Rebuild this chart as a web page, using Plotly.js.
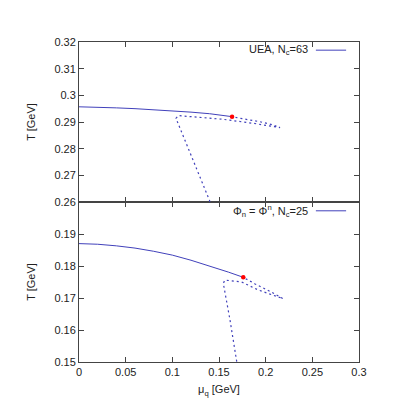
<!DOCTYPE html>
<html>
<head>
<meta charset="utf-8">
<script src="https://cdn.plot.ly/plotly-3.0.1.min.js"></script>
<style>html,body{margin:0;padding:0;background:#fff;}#chart{width:399px;height:418px;}</style>
</head>
<body>
<div id="chart"></div>
<script>
// Top panel (UEA, Nc=63)
var muSolidTop = [0, 0.02, 0.04, 0.06, 0.08, 0.10, 0.12, 0.14, 0.164];
var TSolidTop  = [0.2957, 0.2956, 0.2953, 0.2950, 0.2946, 0.2942, 0.2937, 0.2931, 0.2920];
var muDashTop  = [0.1404, 0.1039, 0.1064, 0.1546, 0.1868, 0.2154, 0.2082, 0.1939, 0.1725, 0.1636];
var TDashTop   = [0.2601, 0.2914, 0.2924, 0.2910, 0.2895, 0.2879, 0.2889, 0.2901, 0.2914, 0.2920];
var muCepTop = [0.164];
var TCepTop  = [0.2920];

// Bottom panel (Phi_n = Phi^n, Nc=25)
var muSolidBot = [0, 0.02, 0.04, 0.06, 0.08, 0.10, 0.12, 0.14, 0.16, 0.176];
var TSolidBot  = [0.1870, 0.1868, 0.1863, 0.1856, 0.1846, 0.1834, 0.1818, 0.1800, 0.1781, 0.17647];
var muDashBot  = [0.1690, 0.1618, 0.1546, 0.1564, 0.1743, 0.1921, 0.2186, 0.2064, 0.1886, 0.1760];
var TDashBot   = [0.1501, 0.1631, 0.1746, 0.1756, 0.1750, 0.1725, 0.1698, 0.1718, 0.1744, 0.17647];
var muCepBot = [0.176];
var TCepBot  = [0.17647];

var legendTop = "UEA, N<sub>c</sub>=63";
var legendBot = "Φ<sub>n</sub> = Φ<sup>n</sup>, N<sub>c</sub>=25";
var xTitle = "μ<sub>q</sub> [GeV]";
var yTitle = "T [GeV]";
var yTicksTop = [0.26, 0.27, 0.28, 0.29, 0.30, 0.31, 0.32];
var yTicksBot = [0.15, 0.16, 0.17, 0.18, 0.19];

var blue = "#4141bb";
var font = {family: "Liberation Sans, Arial, sans-serif", size: 11, color: "#222"};

var traces = [
  {x: muSolidTop, y: TSolidTop, xaxis: "x2", yaxis: "y2", mode: "lines", line: {color: blue, width: 1}, hoverinfo: "skip"},
  {x: muDashTop, y: TDashTop, xaxis: "x2", yaxis: "y2", mode: "lines", line: {color: blue, width: 1.2, dash: "2px,3px"}, hoverinfo: "skip"},
  {x: muCepTop, y: TCepTop, xaxis: "x2", yaxis: "y2", mode: "markers", marker: {color: "#ff0000", size: 4.5}, hoverinfo: "skip"},
  {x: muSolidBot, y: TSolidBot, xaxis: "x", yaxis: "y", mode: "lines", line: {color: blue, width: 1}, hoverinfo: "skip"},
  {x: muDashBot, y: TDashBot, xaxis: "x", yaxis: "y", mode: "lines", line: {color: blue, width: 1.2, dash: "2px,3px"}, hoverinfo: "skip"},
  {x: muCepBot, y: TCepBot, xaxis: "x", yaxis: "y", mode: "markers", marker: {color: "#ff0000", size: 4.5}, hoverinfo: "skip"}
];

var axBase = {
  showline: true, linecolor: "#444", linewidth: 1, mirror: "ticks",
  ticks: "inside", ticklen: 5, tickcolor: "#444", tickwidth: 1,
  showgrid: false, zeroline: false, tickfont: font
};

var layout = {
  width: 399, height: 418,
  margin: {l: 79, r: 40, t: 42, b: 56},
  paper_bgcolor: "#fff", plot_bgcolor: "#fff",
  showlegend: false,
  font: font,
  xaxis: Object.assign({}, axBase, {domain: [0, 1], anchor: "y", range: [0, 0.3], dtick: 0.05, tick0: 0,
    title: {text: xTitle, font: font, standoff: 8}}),
  xaxis2: Object.assign({}, axBase, {domain: [0, 1], anchor: "y2", matches: "x", range: [0, 0.3], dtick: 0.05, tick0: 0, showticklabels: false}),
  yaxis: Object.assign({}, axBase, {domain: [0, 0.5], anchor: "x", range: [0.15, 0.2], tickvals: yTicksBot,
    title: {text: yTitle, font: font, standoff: 16}}),
  yaxis2: Object.assign({}, axBase, {domain: [0.5, 1], anchor: "x2", range: [0.26, 0.32], tickvals: yTicksTop,
    title: {text: yTitle, font: font, standoff: 16}}),
  annotations: [
    {xref: "paper", yref: "paper", x: 0.825, y: 0.9745, xanchor: "right", yanchor: "middle", text: legendTop, showarrow: false, font: font},
    {xref: "paper", yref: "paper", x: 0.825, y: 0.4725, xanchor: "right", yanchor: "middle", text: legendBot, showarrow: false, font: font}
  ],
  shapes: [
    {type: "line", xref: "paper", yref: "paper", x0: 0.846, x1: 0.954, y0: 0.9745, y1: 0.9745, line: {color: blue, width: 1}},
    {type: "line", xref: "paper", yref: "paper", x0: 0.846, x1: 0.954, y0: 0.4725, y1: 0.4725, line: {color: blue, width: 1}}
  ]
};

Plotly.newPlot("chart", traces, layout, {displayModeBar: false, staticPlot: true});
</script>
</body>
</html>
